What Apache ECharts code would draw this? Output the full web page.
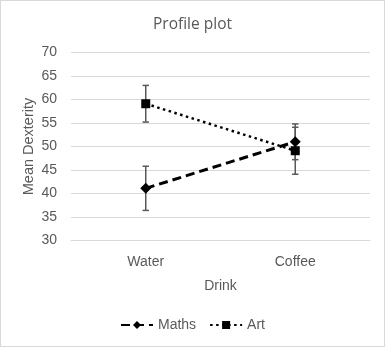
<!DOCTYPE html>
<html><head><meta charset="utf-8">
<script src="https://cdn.jsdelivr.net/npm/echarts@6/dist/echarts.min.js"></script>
<style>html,body{margin:0;padding:0;background:#fff}#c{width:385px;height:347px;box-sizing:border-box;border:1px solid #d9d9d9}</style>
</head><body><div id="c"></div>
<script>
var categories = ['Water', 'Coffee'];
var mathsMean = [41.1, 51.0];
var mathsErr = [4.7, 3.8];
var artMean = [59.1, 49.1];
var artErr = [3.9, 5.0];
var yTicks = [30, 35, 40, 45, 50, 55, 60, 65, 70];

function errData(mean, err) {
  return mean.map(function (m, i) { return [i, m - err[i], m + err[i]]; });
}
function errRender(params, api) {
  var x = api.value(0);
  var lo = api.coord([x, api.value(1)]);
  var hi = api.coord([x, api.value(2)]);
  var w = 3.2;
  var st = { stroke: '#595959', lineWidth: 1.5, fill: null };
  return { type: 'group', children: [
    { type: 'line', shape: { x1: lo[0], y1: lo[1], x2: hi[0], y2: hi[1] }, style: st },
    { type: 'line', shape: { x1: lo[0] - w, y1: lo[1], x2: lo[0] + w, y2: lo[1] }, style: st },
    { type: 'line', shape: { x1: hi[0] - w, y1: hi[1], x2: hi[0] + w, y2: hi[1] }, style: st }
  ]};
}
var font = 'Liberation Sans, Arial, sans-serif';
var chart = echarts.init(document.getElementById('c'), null, { renderer: 'canvas' });
chart.setOption({
  animation: false,
  title: { text: 'Profile plot', left: 'center', top: 11, textStyle: { fontFamily: 'Open Sans', fontSize: 15.5, fontWeight: 'normal', color: '#595959' } },
  grid: { left: 70, right: 14, top: 51.5, bottom: 105.5 },
  legend: {
    bottom: 9, left: 'center', itemWidth: 32, itemHeight: 10, itemGap: 13,
    textStyle: { fontFamily: font, fontSize: 14, color: '#595959' },
    data: ['Maths', 'Art']
  },
  xAxis: {
    type: 'category', data: categories, boundaryGap: true,
    name: 'Drink', nameLocation: 'middle', nameGap: 39, nameMoveOverlap: false,
    nameTextStyle: { fontFamily: font, fontSize: 14, color: '#595959' },
    axisLine: { lineStyle: { color: '#d9d9d9', width: 1 } },
    axisTick: { show: false },
    axisLabel: { fontFamily: font, fontSize: 14, color: '#595959', margin: 15 }
  },
  yAxis: {
    type: 'value', min: yTicks[0], max: yTicks[yTicks.length - 1], interval: 5,
    name: 'Mean Dexterity', nameLocation: 'middle', nameGap: 35, nameMoveOverlap: false,
    nameTextStyle: { fontFamily: font, fontSize: 14.5, color: '#595959' },
    axisLine: { show: false }, axisTick: { show: false },
    axisLabel: { fontFamily: font, fontSize: 14, color: '#595959', margin: 14 },
    splitLine: { lineStyle: { color: '#d9d9d9', width: 1 } }
  },
  series: [
    { type: 'custom', name: 'errM', renderItem: errRender, data: errData(mathsMean, mathsErr), z: 1, encode: { x: 0, y: [1, 2] } },
    { type: 'custom', name: 'errA', renderItem: errRender, data: errData(artMean, artErr), z: 1, encode: { x: 0, y: [1, 2] } },
    { type: 'line', name: 'Maths', data: mathsMean, z: 3, symbol: 'diamond', symbolSize: 11,
      itemStyle: { color: '#000' }, lineStyle: { color: '#000', width: 3, type: [9, 5] } },
    { type: 'line', name: 'Art', data: artMean, z: 3, symbol: 'rect', symbolSize: 9,
      itemStyle: { color: '#000' }, lineStyle: { color: '#000', width: 2.5, type: [2.5, 3.5] } }
  ]
});
</script></body></html>
